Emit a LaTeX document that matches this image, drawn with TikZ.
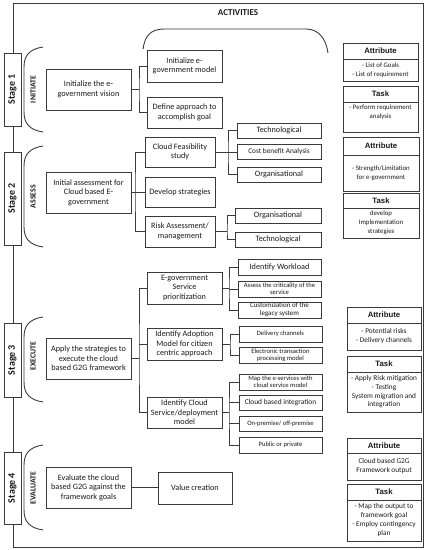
\documentclass[tikz,border=0pt]{standalone}
\usepackage{fontspec}
\setmainfont{Carlito}
\newfontfamily\arialfont{Liberation Sans}
\definecolor{ln}{HTML}{3A3A3A}
\definecolor{tx}{HTML}{1A1A1A}
\begin{document}
\begin{tikzpicture}[x=1pt,y=-1pt,
  every node/.style={text=tx},
  box/.style={draw=ln, line width=0.9pt, fill=white, inner sep=1pt, align=center,
    font=\fontsize{8.2}{9.4}\selectfont},
  sbox/.style={box, font=\fontsize{7}{8}\selectfont},
  xbox/.style={box, font=\fontsize{6.6}{7.4}\selectfont},
  stagebox/.style={draw=ln, line width=0.9pt, fill=white, inner sep=0pt},
  stagetext/.style={rotate=90, font=\fontsize{10}{12}\bfseries\selectfont},
  phasetext/.style={rotate=90, font=\fontsize{7.8}{9}\bfseries\selectfont},
  hdr/.style={draw=ln, line width=0.9pt, fill=white, inner sep=0pt,
    font=\arialfont\fontsize{7.8}{9}\bfseries\selectfont},
  pbody/.style={draw=ln, line width=0.9pt, fill=white, inner sep=0pt},
  ptext/.style={align=center, inner sep=0pt, font=\fontsize{6.8}{8.8}\selectfont},
  conn/.style={draw=ln, line width=0.9pt},
  brk/.style={draw=ln, line width=0.9pt}
]
\useasboundingbox (0,0) rectangle (432,550);
% outer frame
\draw[conn] (13,3) rectangle (423,547);
\node[font=\fontsize{9}{11}\bfseries\selectfont] (act) at (238,13) {ACTIVITIES};
% top bracket
\draw[brk] (143,49) .. controls (145,36) and (150,29) .. (165,29) -- (306,29) .. controls (318,29) and (326,38) .. (328,53);

% stage boxes
\node[stagebox, minimum width=17pt, minimum height=73pt] (s1) at (12.5,89.5) {};
\node[stagetext] (s1t) at (s1) {Stage 1};
\node[stagebox, minimum width=17pt, minimum height=93pt] (s2) at (12.5,198.5) {};
\node[stagetext] (s2t) at (s2) {Stage 2};
\node[stagebox, minimum width=17pt, minimum height=74pt] (s3) at (12.5,360) {};
\node[stagetext] (s3t) at (s3) {Stage 3};
\node[stagebox, minimum width=17pt, minimum height=72pt] (s4) at (12.5,488) {};
\node[stagetext] (s4t) at (s4) {Stage 4};

% phase brackets
\foreach \yt/\yb in {47/132, 146/247, 317/402, 445/530}{
  \draw[brk] (43,\yt) .. controls (30,\yt+2) and (24,\yt+8) .. (24,\yt+20) -- (24,\yb-20) .. controls (24,\yb-8) and (30,\yb-2) .. (43,\yb);
}
\node[phasetext] (p1) at (33,89.5) {INITIATE};
\node[phasetext] (p2) at (33,196.5) {ASSESS};
\node[phasetext] (p3) at (33,356) {EXECUTE};
\node[phasetext] (p4) at (33,488) {EVALUATE};

% main boxes
\node[box, minimum width=85pt, minimum height=41pt] (m1) at (88.5,89.5) {Initialize the e-\\government vision};
\node[box, minimum width=85pt, minimum height=41pt] (m2) at (88.5,192.5) {Initial assessment for\\Cloud based E-\\government};
\node[box, minimum width=85pt, minimum height=41pt] (m3) at (88.5,358.5) {Apply the strategies to\\execute the cloud\\based G2G framework};
\node[box, minimum width=85pt, minimum height=41pt] (m4) at (88.5,487.5) {Evaluate the cloud\\based G2G against the\\framework goals};

% stage 1 children
\node[box, minimum width=75pt, minimum height=32pt] (a1) at (184.5,66) {Initialize e-\\government model};
\node[box, minimum width=75pt, minimum height=31pt] (a2) at (184.5,112.5) {Define approach to\\accomplish goal};
\coordinate (j1) at (139,89.5);
\draw[conn] (m1.east) -- (j1);
\draw[conn] (a1.west) -| (j1) |- (a2.west);

% stage 2 children
\node[box, minimum width=70pt, minimum height=30pt] (b1) at (180,152) {Cloud Feasibility\\study};
\node[box, minimum width=70pt, minimum height=30pt] (b2) at (180,192.5) {Develop strategies};
\node[box, minimum width=70pt, minimum height=31pt] (b3) at (180,231.5) {Risk Assessment/\\management};
\coordinate (j2) at (135,192.5);
\draw[conn] (m2.east) -- (j2);
\draw[conn] (b1.west) -| (j2) |- (b3.west);
\draw[conn] (b2.west) -- (j2);

\node[box, minimum width=84pt, minimum height=15pt] (b11) at (279,130.5) {Technological};
\node[sbox, font=\fontsize{7.3}{8}\selectfont, minimum width=84pt, minimum height=15pt] (b12) at (279,152) {Cost benefit Analysis};
\node[box, minimum width=84pt, minimum height=15pt] (b13) at (279,174.5) {Organisational};
\coordinate (k1) at (228,152);
\draw[conn] (b1.east) -- (k1);
\draw[conn] (b11.west) -| (k1) |- (b13.west);
\draw[conn] (b12.west) -- (k1);

\node[box, minimum width=86pt, minimum height=15pt] (b31) at (278,215.5) {Organisational};
\node[box, minimum width=86pt, minimum height=15pt] (b32) at (278,239.5) {Technological};
\coordinate (k2) at (227,231.5);
\draw[conn] (b3.east) -- (k2);
\draw[conn] (b31.west) -| (k2) |- (b32.west);

% stage 3 children
\node[box, minimum width=75pt, minimum height=32pt] (c1) at (184.5,288) {E-government\\Service\\prioritization};
\node[box, minimum width=75pt, minimum height=32pt] (c2) at (184.5,344) {Identify Adoption\\Model for citizen\\centric approach};
\node[box, minimum width=75pt, minimum height=31pt] (c3) at (184.5,412.5) {Identify Cloud\\Service/deployment\\model};
\coordinate (j3) at (139,358.5);
\draw[conn] (m3.east) -- (j3);
\draw[conn] (c1.west) -| (j3) |- (c3.west);
\draw[conn] (c2.west) -- (c2.west -| j3);

\node[box, minimum width=83pt, minimum height=16pt] (c11) at (279.5,267) {Identify Workload};
\node[xbox, minimum width=83pt, minimum height=16pt] (c12) at (279.5,289) {Assess the criticality of the\\service};
\node[sbox, minimum width=83pt, minimum height=16pt] (c13) at (279.5,310) {Customization of the\\legacy system};
\coordinate (k3) at (229,288);
\draw[conn] (c1.east) -- (k3);
\draw[conn] (c11.west) -| (k3) |- (c13.west);
\draw[conn] (c12.west) -- (c12.west -| k3);

\node[xbox, minimum width=83pt, minimum height=16pt] (c21) at (280.5,334) {Delivery channels};
\node[xbox, minimum width=83pt, minimum height=16pt] (c22) at (280.5,355) {Electronic transaction\\processing model};
\coordinate (k4) at (230,344);
\draw[conn] (c2.east) -- (k4);
\draw[conn] (c21.west) -| (k4) |- (c22.west);

\node[xbox, minimum width=83pt, minimum height=16pt] (c31) at (280.5,382) {Map the e-services with\\cloud service model};
\node[sbox, font=\fontsize{7.4}{8}\selectfont, minimum width=83pt, minimum height=15pt] (c32) at (280.5,402.5) {Cloud based integration};
\node[xbox, minimum width=83pt, minimum height=15pt] (c33) at (280.5,423.5) {On-premise/ off-premise};
\node[xbox, minimum width=83pt, minimum height=16pt] (c34) at (280.5,445) {Public or private};
\coordinate (k5) at (229,412.5);
\draw[conn] (c3.east) -- (k5);
\draw[conn] (c31.west) -| (k5) |- (c34.west);
\draw[conn] (c32.west) -- (c32.west -| k5);
\draw[conn] (c33.west) -- (c33.west -| k5);

% stage 4 child
\node[box, minimum width=74pt, minimum height=32pt] (v1) at (195,488) {Value creation};
\draw[conn] (m4.east) -- (v1.west |- m4.east);

% right panels
\node[hdr, minimum width=75pt, minimum height=16pt] (A1h) at (380.5,51) {Attribute};
\node[pbody, minimum width=75pt, minimum height=22pt] (A1b) at (380.5,70) {};
\node[ptext] (A1t) at (A1b) {- List of Goals\\- List of requirement};
\node[hdr, minimum width=75pt, minimum height=16pt] (T1h) at (380.5,94) {Task};
\node[pbody, minimum width=75pt, minimum height=30pt] (T1b) at (380.5,117) {};
\node[ptext, anchor=north] (T1t) at ([yshift=-3pt]T1b.north) {- Perform requirement\\analysis};

\node[hdr, minimum width=76pt, minimum height=18pt] (A2h) at (381,146) {Attribute};
\node[pbody, minimum width=76pt, minimum height=36pt] (A2b) at (381,173) {};
\node[ptext] (A2t) at (A2b) {- Strength/Limitation\\for e-government};
\node[hdr, minimum width=76pt, minimum height=15pt] (T2h) at (381,200.5) {Task};
\node[pbody, minimum width=76pt, minimum height=30pt] (T2b) at (381,223) {};
\node[ptext] (T2t) at (T2b) {develop\\Implementation\\strategies};

\node[hdr, minimum width=74pt, minimum height=16pt] (A3h) at (384,315) {Attribute};
\node[pbody, minimum width=74pt, minimum height=27pt] (A3b) at (384,336.5) {};
\node[ptext, font=\fontsize{7.3}{9}\selectfont] (A3t) at (A3b) {- Potential risks\\- Delivery channels};
\node[hdr, minimum width=74pt, minimum height=16pt] (T3h) at (384,364) {Task};
\node[pbody, minimum width=74pt, minimum height=40pt] (T3b) at (384,392) {};
\node[ptext, font=\fontsize{7.3}{8.7}\selectfont] (T3t) at (T3b) {- Apply Risk mitigation\\- Testing\\System migration and\\integration};

\node[hdr, minimum width=74pt, minimum height=15pt] (A4h) at (384,445.5) {Attribute};
\node[pbody, minimum width=74pt, minimum height=27pt] (A4b) at (384,466.5) {};
\node[ptext, font=\fontsize{7.3}{9}\selectfont] (A4t) at (A4b) {Cloud based G2G\\Framework output};
\node[hdr, minimum width=74pt, minimum height=16pt] (T4h) at (384,492) {Task};
\node[pbody, minimum width=74pt, minimum height=41pt] (T4b) at (384,520.5) {};
\node[ptext, font=\fontsize{7.3}{9}\selectfont] (T4t) at (T4b) {- Map the output to\\framework goal\\- Employ contingency\\plan};
\end{tikzpicture}
\end{document}
